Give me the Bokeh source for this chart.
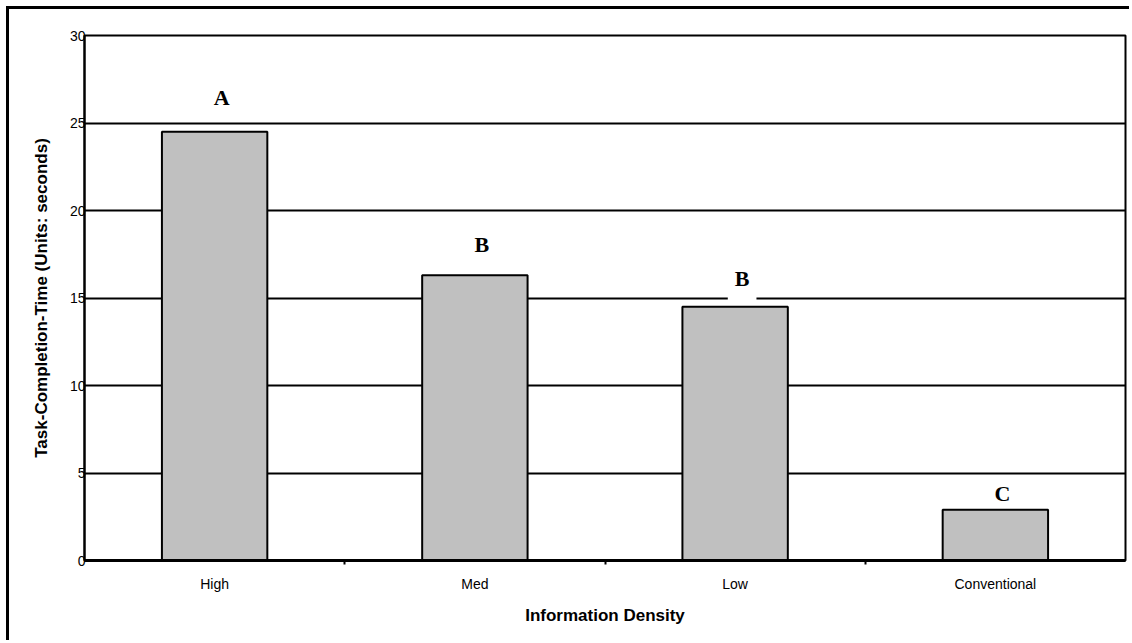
from bokeh.plotting import figure
from bokeh.models import FixedTicker, ColumnDataSource
from bokeh.core.properties import value
from bokeh.embed import file_html
from bokeh.resources import INLINE

categories = ["High", "Med", "Low", "Conventional"]
times = [24.5, 16.3, 14.5, 2.9]
groups = ["A", "B", "B", "C"]
group_label_y = [25.94, 17.54, 15.6, 3.26]
y_ticks = [0, 5, 10, 15, 20, 25, 30]

xs = [i + 0.5 for i in range(len(categories))]
# a label that sits just above a gridline hides that gridline behind a white box
bg_alpha = [1.0 if (gy % 5) < 0.7 else 0.0 for gy in group_label_y]
src = ColumnDataSource(dict(x=xs, top=times, g=groups, gy=group_label_y, bga=bg_alpha))

p = figure(width=1123, height=634, x_range=(0, 4), y_range=(0, 30),
           output_backend="svg", toolbar_location=None,
           min_border_left=75, min_border_right=7, min_border_top=26, min_border_bottom=83)
p.margin = (6, 0, 0, 6)
p.styles = {"border-left": "3px solid black", "border-top": "3px solid black"}
p.background_fill_color = "white"
p.border_fill_color = "white"
p.outline_line_color = "black"
p.outline_line_width = 2

p.vbar(x="x", top="top", width=0.405, source=src, fill_color="#c0c0c0",
       line_color="black", line_width=2)
p.text(x="x", y="gy", text="g", source=src, text_align="center", text_baseline="top",
       x_offset=7, y_offset=-22, text_font=value("Liberation Serif"), text_font_style="bold",
       text_font_size="22px", text_color="black",
       background_fill_color="white", background_fill_alpha="bga",
       padding=dict(left=7, right=7, top=0, bottom=10))

p.xaxis.ticker = FixedTicker(ticks=xs, minor_ticks=[1, 2, 3])
p.xaxis.major_label_overrides = {x: c for x, c in zip(xs, categories)}
p.xaxis.major_tick_line_color = None
p.xaxis.minor_tick_out = 4
p.xaxis.minor_tick_in = 0
p.xaxis.minor_tick_line_width = 2
p.xaxis.axis_line_width = 3
p.xaxis.axis_label = "Information Density"
p.xaxis.major_label_standoff = 9
p.xaxis.axis_label_standoff = 11

p.yaxis.ticker = FixedTicker(ticks=y_ticks)
p.yaxis.major_tick_out = 0
p.yaxis.major_tick_in = 0
p.yaxis.minor_tick_line_color = None
p.yaxis.axis_line_width = 2
p.yaxis.major_label_standoff = -1
p.yaxis.axis_label = "Task-Completion-Time (Units: seconds)"
p.yaxis.axis_label_standoff = 16

for ax in (p.xaxis[0], p.yaxis[0]):
    ax.axis_line_color = "black"
    ax.major_label_text_font = "Liberation Sans"
    ax.major_label_text_font_size = "14px"
    ax.major_label_text_color = "black"
    ax.axis_label_text_font = "Liberation Sans"
    ax.axis_label_text_font_size = "17px"
    ax.axis_label_text_font_style = "bold"
    ax.axis_label_text_color = "black"

p.xgrid.grid_line_color = None
p.ygrid.ticker = FixedTicker(ticks=y_ticks)
p.ygrid.grid_line_color = "black"
p.ygrid.grid_line_width = 2

open("out.html", "w").write(file_html(p, INLINE))
